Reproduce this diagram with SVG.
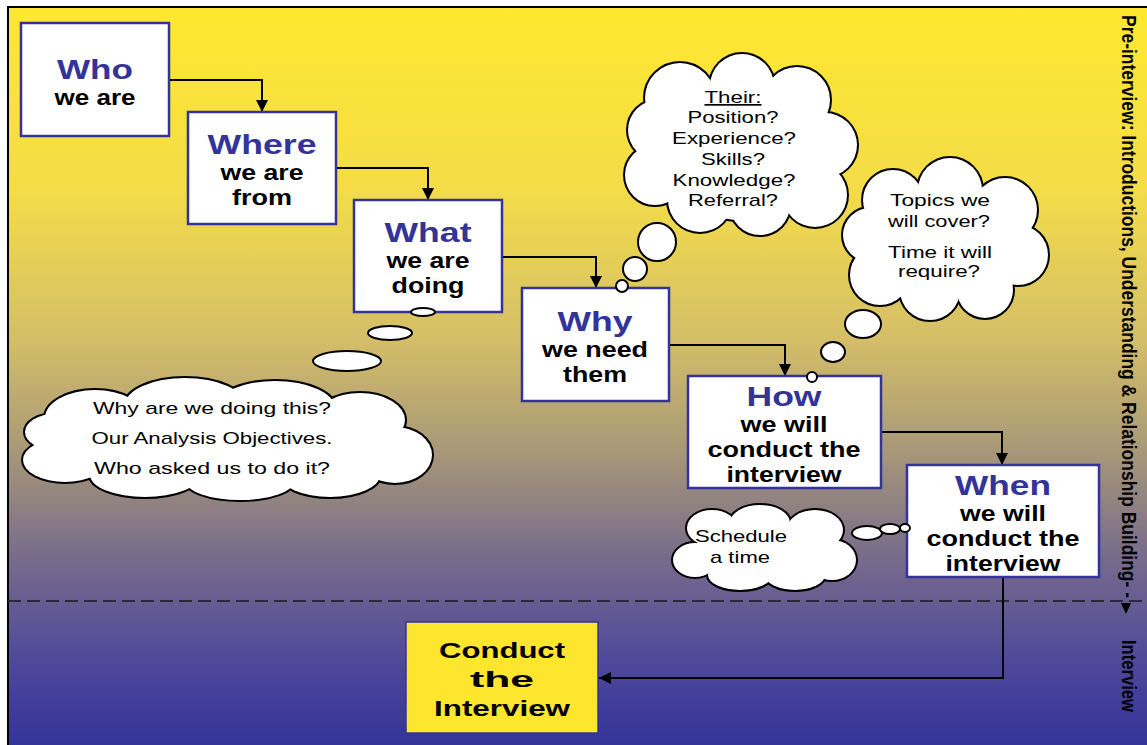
<svg xmlns="http://www.w3.org/2000/svg" xmlns:xlink="http://www.w3.org/1999/xlink" width="1147" height="745" viewBox="0 0 1147 745">
<style>
.box{fill:#fff;stroke:#333399;stroke-width:2.5}
.ttl{font-family:"Liberation Sans",Arial,sans-serif;font-weight:bold;font-size:27px;fill:#333399;text-anchor:middle}
.sub{font-family:"Liberation Sans",Arial,sans-serif;font-weight:bold;font-size:22px;fill:#000;text-anchor:middle}
.cl{font-family:"Liberation Sans",Arial,sans-serif;font-size:17px;fill:#000;text-anchor:middle}
.side{font-family:"Liberation Sans",Arial,sans-serif;font-weight:bold;font-size:20px;fill:#000}
.con{fill:none;stroke:#000;stroke-width:2;marker-end:url(#arr)}
.bub{fill:#fff;stroke:#000;stroke-width:2}
.cs{fill:none;stroke:#000;stroke-width:4}
.cf{fill:#fff;stroke:none}
</style>
<defs>
<linearGradient id="bg" gradientUnits="userSpaceOnUse" x1="0" y1="7" x2="0" y2="745">
<stop offset="0" stop-color="#FFE82E"/>
<stop offset="0.25" stop-color="#F3DC48"/>
<stop offset="0.45" stop-color="#D4BE68"/>
<stop offset="0.6" stop-color="#A89878"/>
<stop offset="0.75" stop-color="#766A8C"/>
<stop offset="0.88" stop-color="#504A9A"/>
<stop offset="1" stop-color="#333399"/>
</linearGradient>
<marker id="arr" viewBox="0 0 12 12" refX="12" refY="6" markerWidth="12" markerHeight="12" markerUnits="userSpaceOnUse" orient="auto">
<path d="M0,0 L12,6 L0,12 z" fill="#000"/>
</marker>
<g id="cloud1">
<circle cx="680" cy="98" r="35"/><circle cx="742" cy="86" r="32"/><circle cx="797" cy="100" r="33"/>
<circle cx="825" cy="145" r="32"/><circle cx="815" cy="195" r="32"/><circle cx="760" cy="205" r="30"/>
<circle cx="700" cy="200" r="32"/><circle cx="655" cy="175" r="30"/><circle cx="658" cy="130" r="30"/>
<circle cx="740" cy="150" r="70"/>
</g>
<g id="cloud2">
<circle cx="893" cy="200" r="30"/><circle cx="950" cy="190" r="32"/><circle cx="1005" cy="210" r="32"/>
<circle cx="1018" cy="255" r="30"/><circle cx="985" cy="290" r="28"/><circle cx="930" cy="290" r="30"/>
<circle cx="880" cy="275" r="30"/><circle cx="870" cy="235" r="27"/><circle cx="945" cy="240" r="55"/>
</g>
<g id="cloud3">
<ellipse cx="95" cy="418" rx="50" ry="28"/><ellipse cx="185" cy="405" rx="60" ry="27"/><ellipse cx="275" cy="408" rx="60" ry="27"/>
<ellipse cx="360" cy="420" rx="45" ry="27"/><ellipse cx="395" cy="455" rx="37" ry="28"/><ellipse cx="330" cy="475" rx="50" ry="22"/>
<ellipse cx="240" cy="480" rx="55" ry="20"/><ellipse cx="145" cy="475" rx="55" ry="22"/><ellipse cx="65" cy="460" rx="42" ry="22"/>
<ellipse cx="55" cy="432" rx="30" ry="18"/><ellipse cx="220" cy="440" rx="160" ry="45"/>
</g>
<g id="cloud4">
<ellipse cx="712" cy="528" rx="25" ry="18"/><ellipse cx="760" cy="523" rx="30" ry="18"/><ellipse cx="815" cy="530" rx="28" ry="20"/>
<ellipse cx="832" cy="560" rx="24" ry="20"/><ellipse cx="795" cy="575" rx="30" ry="15"/><ellipse cx="740" cy="575" rx="32" ry="15"/>
<ellipse cx="695" cy="560" rx="22" ry="17"/><ellipse cx="765" cy="550" rx="70" ry="28"/>
</g>
</defs>

<rect x="8" y="7" width="1150" height="760" fill="url(#bg)" stroke="#000" stroke-width="2"/>
<line x1="8" y1="601" x2="1147" y2="601" stroke="#2a2a3a" stroke-width="2" stroke-dasharray="13,6"/>

<g id="side-label">
<text class="side" transform="translate(1122,15) rotate(90)" textLength="583" lengthAdjust="spacingAndGlyphs">Pre-interview: Introductions, Understanding &amp; Relationship Building- -</text>
<polygon points="1121,603 1131,603 1126,614" fill="#000"/>
<text class="side" transform="translate(1122,640) rotate(90)" textLength="72" lengthAdjust="spacingAndGlyphs">Interview</text>
</g>

<g id="connectors">
<path class="con" d="M169,80 H262 V112"/>
<path class="con" d="M336,168 H428 V200"/>
<path class="con" d="M502,257 H596 V288"/>
<path class="con" d="M669,345 H785 V376"/>
<path class="con" d="M881,432 H1002 V465"/>
<path class="con" d="M1003,577 V678 H599"/>
</g>

<g id="who">
<rect class="box" x="21" y="23" width="148" height="113"/>
<text class="ttl" x="95" y="79" textLength="76" lengthAdjust="spacingAndGlyphs">Who</text>
<text class="sub" x="95" y="105" textLength="81" lengthAdjust="spacingAndGlyphs">we are</text>
</g>
<g id="where">
<rect class="box" x="188" y="112" width="148" height="112"/>
<text class="ttl" x="262" y="154" textLength="109" lengthAdjust="spacingAndGlyphs">Where</text>
<text class="sub" x="262" y="180" textLength="83" lengthAdjust="spacingAndGlyphs">we are</text>
<text class="sub" x="262" y="205" textLength="60" lengthAdjust="spacingAndGlyphs">from</text>
</g>
<g id="what">
<rect class="box" x="354" y="200" width="148" height="112"/>
<text class="ttl" x="428" y="242" textLength="87" lengthAdjust="spacingAndGlyphs">What</text>
<text class="sub" x="428" y="268" textLength="83" lengthAdjust="spacingAndGlyphs">we are</text>
<text class="sub" x="428" y="293" textLength="73" lengthAdjust="spacingAndGlyphs">doing</text>
</g>
<g id="why">
<rect class="box" x="522" y="288" width="147" height="113"/>
<text class="ttl" x="595" y="331" textLength="75" lengthAdjust="spacingAndGlyphs">Why</text>
<text class="sub" x="595" y="357" textLength="106" lengthAdjust="spacingAndGlyphs">we need</text>
<text class="sub" x="595" y="382" textLength="64" lengthAdjust="spacingAndGlyphs">them</text>
</g>
<g id="how">
<rect class="box" x="688" y="376" width="193" height="112"/>
<text class="ttl" x="784" y="406" textLength="75" lengthAdjust="spacingAndGlyphs">How</text>
<text class="sub" x="784" y="432" textLength="87" lengthAdjust="spacingAndGlyphs">we will</text>
<text class="sub" x="784" y="457" textLength="153" lengthAdjust="spacingAndGlyphs">conduct the</text>
<text class="sub" x="784" y="482" textLength="115" lengthAdjust="spacingAndGlyphs">interview</text>
</g>
<g id="when">
<rect class="box" x="907" y="465" width="192" height="112"/>
<text class="ttl" x="1003" y="495" textLength="96" lengthAdjust="spacingAndGlyphs">When</text>
<text class="sub" x="1003" y="521" textLength="86" lengthAdjust="spacingAndGlyphs">we will</text>
<text class="sub" x="1003" y="546" textLength="153" lengthAdjust="spacingAndGlyphs">conduct the</text>
<text class="sub" x="1003" y="571" textLength="115" lengthAdjust="spacingAndGlyphs">interview</text>
</g>
<g id="conduct">
<rect x="406" y="622" width="192" height="111" fill="#FFE62E" stroke="#333399" stroke-width="1.5"/>
<text class="sub" x="502" y="658" font-size="25" textLength="126" lengthAdjust="spacingAndGlyphs">Conduct</text>
<text class="sub" x="502" y="687" font-size="25" textLength="64" lengthAdjust="spacingAndGlyphs">the</text>
<text class="sub" x="502" y="716" font-size="25" textLength="136" lengthAdjust="spacingAndGlyphs">Interview</text>
</g>

<g id="cloud-their">
<use xlink:href="#cloud1" class="cs"/>
<use xlink:href="#cloud1" class="cf"/>
<circle class="bub" cx="657" cy="242" r="19"/>
<circle class="bub" cx="635" cy="269" r="12"/>
<circle class="bub" cx="622" cy="286" r="6"/>
<text class="cl" x="733" y="103" textLength="57" lengthAdjust="spacingAndGlyphs" text-decoration="underline">Their:</text>
<text class="cl" x="733" y="123" textLength="91" lengthAdjust="spacingAndGlyphs">Position?</text>
<text class="cl" x="734" y="144" textLength="124" lengthAdjust="spacingAndGlyphs">Experience?</text>
<text class="cl" x="733" y="165" textLength="64" lengthAdjust="spacingAndGlyphs">Skills?</text>
<text class="cl" x="734" y="186" textLength="123" lengthAdjust="spacingAndGlyphs">Knowledge?</text>
<text class="cl" x="733" y="206" textLength="90" lengthAdjust="spacingAndGlyphs">Referral?</text>
</g>

<g id="cloud-topics">
<use xlink:href="#cloud2" class="cs"/>
<use xlink:href="#cloud2" class="cf"/>
<ellipse class="bub" cx="863" cy="324" rx="18" ry="14"/>
<ellipse class="bub" cx="833" cy="352" rx="12" ry="10"/>
<circle class="bub" cx="812" cy="377" r="5"/>
<text class="cl" x="940" y="206" textLength="100" lengthAdjust="spacingAndGlyphs">Topics we</text>
<text class="cl" x="939" y="227" textLength="102" lengthAdjust="spacingAndGlyphs">will cover?</text>
<text class="cl" x="940" y="258" textLength="104" lengthAdjust="spacingAndGlyphs">Time it will</text>
<text class="cl" x="939" y="277" textLength="82" lengthAdjust="spacingAndGlyphs">require?</text>
</g>

<g id="cloud-why">
<use xlink:href="#cloud3" class="cs"/>
<use xlink:href="#cloud3" class="cf"/>
<ellipse class="bub" cx="347" cy="361" rx="34" ry="10"/>
<ellipse class="bub" cx="390" cy="333" rx="22" ry="7"/>
<ellipse class="bub" cx="423" cy="312" rx="12" ry="4"/>
<text class="cl" x="212" y="414" textLength="238" lengthAdjust="spacingAndGlyphs">Why are we doing this?</text>
<text class="cl" x="212" y="444" textLength="241" lengthAdjust="spacingAndGlyphs">Our Analysis Objectives.</text>
<text class="cl" x="212" y="474" textLength="236" lengthAdjust="spacingAndGlyphs">Who asked us to do it?</text>
</g>

<g id="cloud-schedule">
<use xlink:href="#cloud4" class="cs"/>
<use xlink:href="#cloud4" class="cf"/>
<ellipse class="bub" cx="867" cy="533" rx="15" ry="7"/>
<ellipse class="bub" cx="890" cy="529" rx="10" ry="5"/>
<ellipse class="bub" cx="905" cy="528" rx="5" ry="4"/>
<text class="cl" x="741" y="542" textLength="92" lengthAdjust="spacingAndGlyphs">Schedule</text>
<text class="cl" x="740" y="563" textLength="60" lengthAdjust="spacingAndGlyphs">a time</text>
</g>
</svg>
